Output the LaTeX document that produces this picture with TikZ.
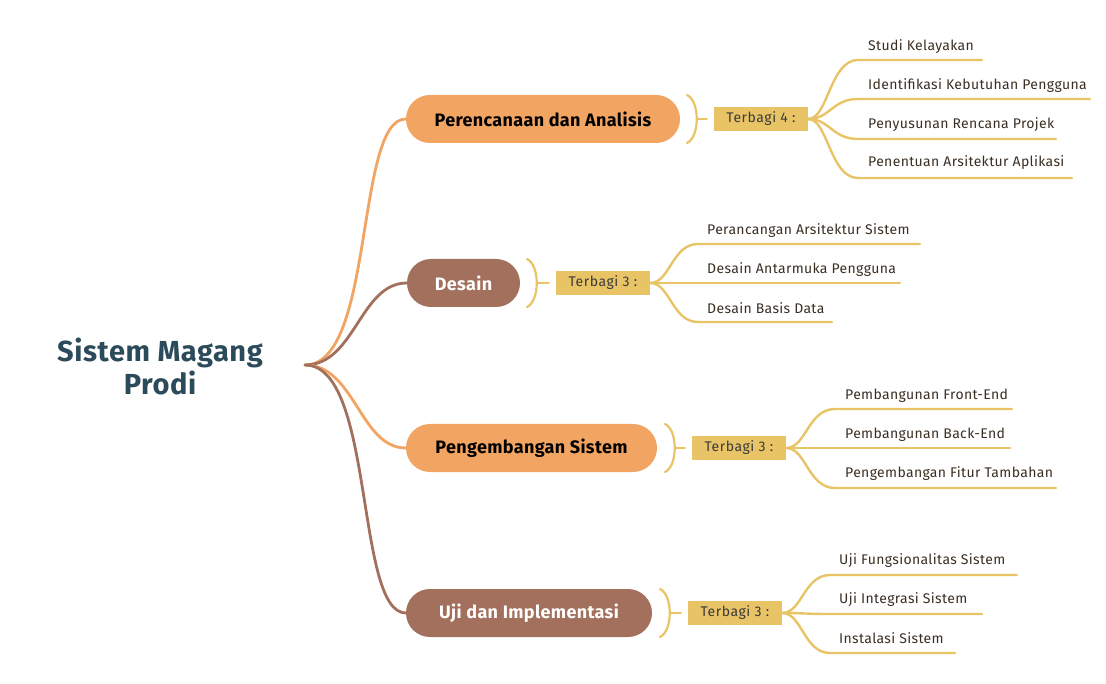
\documentclass[tikz,border=0pt]{standalone}
\usepackage{fontspec}
\setmainfont{Fira Sans}
\usetikzlibrary{calc}
\definecolor{orangeN}{HTML}{F2A462}
\definecolor{brownN}{HTML}{A2705C}
\definecolor{yel}{HTML}{E8C466}
\definecolor{rootc}{HTML}{2B4A5A}
\definecolor{leafc}{HTML}{3A2E22}
\definecolor{labc}{HTML}{3A3A3A}
\begin{document}
\begin{tikzpicture}[x=1pt,y=-1pt,
  main/.style={rounded corners=24pt, minimum height=48pt, inner sep=0pt, font=\fontsize{18}{21}\selectfont\bfseries\addfontfeature{LetterSpace=2}},
  mainO/.style={main, fill=orangeN, text=black},
  mainB/.style={main, fill=brownN, text=white},
  lab/.style={fill=yel, minimum width=94pt, minimum height=24pt, inner sep=0pt, font=\fontsize{14}{16}\selectfont\addfontfeature{LetterSpace=4}, text=labc},
  leaf/.style={anchor=west, inner sep=0pt, yshift=-1.5pt, font=\fontsize{14}{16}\selectfont\addfontfeature{LetterSpace=2.5}, text=leafc},
  conn/.style={line width=2.8pt, line cap=round},
  br/.style={yel, line width=2.2pt, line cap=round},
  ul/.style={yel, line width=2.4pt, line cap=round}]
\useasboundingbox (0,0) rectangle (1106,684);

% root
\node[font=\fontsize{29}{33}\selectfont\bfseries\addfontfeature{LetterSpace=2}, text=rootc, align=center] (root) at (160,366) {Sistem Magang\\Prodi};
\coordinate (o) at (305,365);

% main nodes
\node[mainO, minimum width=274pt] (p) at (543,119) {Perencanaan dan Analisis};
\node[mainB, minimum width=113pt] (d) at (463.5,283) {Desain};
\node[mainO, minimum width=251pt] (g) at (531.5,448) {Pengembangan Sistem};
\node[mainB, minimum width=246pt] (u) at (529,613) {Uji dan Implementasi};

\draw[conn, orangeN] (o) .. controls (375,365) and (355,119) .. (p.west);
\draw[conn, brownN] (o) .. controls (355,365) and (360,283) .. (d.west);
\draw[conn, orangeN] (o) .. controls (355,365) and (360,448) .. (g.west);
\draw[conn, brownN] (o) .. controls (375,365) and (355,613) .. (u.west);

% ---- Perencanaan group
\coordinate (pb1) at (687,95); \coordinate (pb2) at (687,143); \coordinate (pbm) at (698,119);
\draw[br] (pb1) .. controls (700,101) and (700,137) .. (pb2);
\node[lab] (pl) at (761,119) {Terbagi 4 :};
\draw[br] (pbm) -- ($(pl.west)+(-7,0)$);
\node[leaf] (p1) at (868,45) {Studi Kelayakan};
\node[leaf] (p2) at (868,84) {Identifikasi Kebutuhan Pengguna};
\node[leaf] (p3) at (868,123) {Penyusunan Rencana Projek};
\node[leaf] (p4) at (868,161) {Penentuan Arsitektur Aplikasi};
\coordinate (p1e) at (982,60); \coordinate (p2e) at (1090,99);
\coordinate (p3e) at (1056,139); \coordinate (p4e) at (1072,178);
\draw[ul] (pl.east) .. controls (828,119) and (830,60) .. (858,60) -- (p1e);
\draw[ul] (pl.east) .. controls (830,119) and (832,99) .. (858,99) -- (p2e);
\draw[ul] (pl.east) .. controls (830,119) and (832,139) .. (858,139) -- (p3e);
\draw[ul] (pl.east) .. controls (828,119) and (830,178) .. (858,178) -- (p4e);

% ---- Desain group
\coordinate (db1) at (527,259); \coordinate (db2) at (527,307); \coordinate (dbm) at (538,283);
\draw[br] (db1) .. controls (540,265) and (540,301) .. (db2);
\node[lab] (dl) at (603,283) {Terbagi 3 :};
\draw[br] (dbm) -- ($(dl.west)+(-7,0)$);
\node[leaf] (d1) at (707,229) {Perancangan Arsitektur Sistem};
\node[leaf] (d2) at (707,268) {Desain Antarmuka Pengguna};
\node[leaf] (d3) at (707,307) {Desain Basis Data};
\coordinate (d1e) at (920,244); \coordinate (d2e) at (900,283); \coordinate (d3e) at (832,322);
\draw[ul] (dl.east) .. controls (670,283) and (672,244) .. (698,244) -- (d1e);
\draw[ul] (dl.east) -- (d2e);
\draw[ul] (dl.east) .. controls (670,283) and (672,322) .. (698,322) -- (d3e);

% ---- Pengembangan group
\coordinate (gb1) at (665,424); \coordinate (gb2) at (665,472); \coordinate (gbm) at (676,448);
\draw[br] (gb1) .. controls (678,430) and (678,466) .. (gb2);
\node[lab] (gl) at (739,448) {Terbagi 3 :};
\draw[br] (gbm) -- ($(gl.west)+(-7,0)$);
\node[leaf] (g1) at (845,394) {Pembangunan Front-End};
\node[leaf] (g2) at (845,433) {Pembangunan Back-End};
\node[leaf] (g3) at (845,472) {Pengembangan Fitur Tambahan};
\coordinate (g1e) at (1012,409); \coordinate (g2e) at (1010,448); \coordinate (g3e) at (1056,488);
\draw[ul] (gl.east) .. controls (806,448) and (808,409) .. (835,409) -- (g1e);
\draw[ul] (gl.east) -- (g2e);
\draw[ul] (gl.east) .. controls (806,448) and (808,488) .. (835,488) -- (g3e);

% ---- Uji group
\coordinate (ub1) at (660,589); \coordinate (ub2) at (660,637); \coordinate (ubm) at (671,613);
\draw[br] (ub1) .. controls (673,595) and (673,631) .. (ub2);
\node[lab] (ul) at (735,613) {Terbagi 3 :};
\draw[br] (ubm) -- ($(ul.west)+(-7,0)$);
\node[leaf] (u1) at (839,559) {Uji Fungsionalitas Sistem};
\node[leaf] (u2) at (839,598) {Uji Integrasi Sistem};
\node[leaf] (u3) at (839,637) {Instalasi Sistem};
\coordinate (u1e) at (1017,575); \coordinate (u2e) at (982,614); \coordinate (u3e) at (955,653);
\draw[ul] (ul.east) .. controls (802,613) and (804,575) .. (830,575) -- (u1e);
\draw[ul] (ul.east) .. controls (804,613) and (806,614) .. (830,614) -- (u2e);
\draw[ul] (ul.east) .. controls (802,613) and (804,653) .. (830,653) -- (u3e);
\end{tikzpicture}
\end{document}
